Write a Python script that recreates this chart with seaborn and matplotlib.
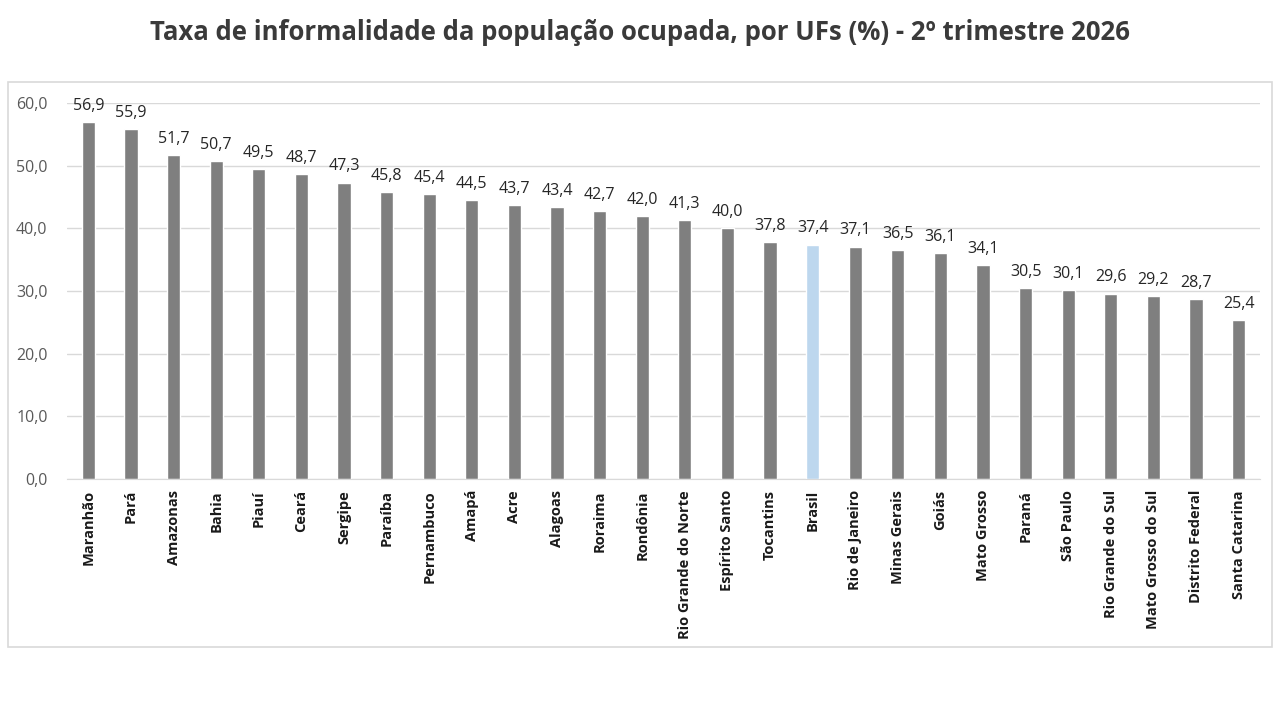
import pandas as pd
import matplotlib
matplotlib.use('Agg')
from matplotlib import pyplot as plt
from matplotlib.patches import Rectangle
import seaborn as sns

ufs = ['Maranhão', 'Pará', 'Amazonas', 'Bahia', 'Piauí', 'Ceará', 'Sergipe',
       'Paraíba', 'Pernambuco', 'Amapá', 'Acre', 'Alagoas', 'Roraima', 'Rondônia',
       'Rio Grande do Norte', 'Espírito Santo', 'Tocantins', 'Brasil',
       'Rio de Janeiro', 'Minas Gerais', 'Goiás', 'Mato Grosso', 'Paraná',
       'São Paulo', 'Rio Grande do Sul', 'Mato Grosso do Sul', 'Distrito Federal',
       'Santa Catarina']
taxa = [56.9, 55.9, 51.7, 50.7, 49.5, 48.7, 47.3, 45.8, 45.4, 44.5, 43.7, 43.4,
        42.7, 42.0, 41.3, 40.0, 37.8, 37.4, 37.1, 36.5, 36.1, 34.1, 30.5, 30.1,
        29.6, 29.2, 28.7, 25.4]
y_ticks = [0, 10, 20, 30, 40, 50, 60]

df = pd.DataFrame({'UF': ufs, 'Taxa': taxa})
df['grupo'] = ['Brasil' if u == 'Brasil' else 'UF' for u in ufs]

sns.set_style('white')
plt.rcParams['font.family'] = ['Open Sans', 'DejaVu Sans']

fig = plt.figure(figsize=(12.8, 7.2), dpi=100)
fig.patches.append(Rectangle((8 / 1280, 1 - 647 / 720), 1264 / 1280, 565 / 720,
                             transform=fig.transFigure, fill=False,
                             edgecolor='#d9d9d9', linewidth=1.2))
ax = fig.add_axes([67 / 1280, 1 - 479 / 720, 1193 / 1280, 376 / 720])

sns.barplot(data=df, x='UF', y='Taxa', hue='grupo',
            palette={'UF': '#7f7f7f', 'Brasil': '#bdd7ee'},
            width=0.31, dodge=False, legend=False, ax=ax, saturation=1)

for i, v in enumerate(taxa):
    ax.text(i, v + 1.3, f'{v:.1f}'.replace('.', ','), ha='center', va='bottom',
            fontsize=11.5, color='#262626')

ax.set_ylim(0, 60)
ax.set_xlim(-0.5, len(ufs) - 0.5)
ax.set_yticks(y_ticks)
ax.set_yticklabels([f'{t:.1f}'.replace('.', ',') for t in y_ticks],
                   fontsize=11.5, color='#595959')
ax.set_xticks(range(len(ufs)))
ax.set_xticklabels(ufs, rotation=90, fontsize=10.5, fontweight='bold', color='#1a1a1a')
ax.tick_params(axis='x', length=0, pad=8)
ax.tick_params(axis='y', length=0, pad=14)
ax.grid(axis='y', color='#d9d9d9', linewidth=1)
ax.set_axisbelow(True)
ax.set_xlabel('')
ax.set_ylabel('')
for s in ['top', 'right', 'left']:
    ax.spines[s].set_visible(False)
ax.spines['bottom'].set_color('#d9d9d9')

fig.text(0.5, 1 - 33 / 720,
         'Taxa de informalidade da população ocupada, por UFs (%) - 2º trimestre 2026',
         ha='center', va='center', fontsize=18.5, fontweight='bold', color='#3a3a3a')

fig.savefig('out.png', dpi=100)
